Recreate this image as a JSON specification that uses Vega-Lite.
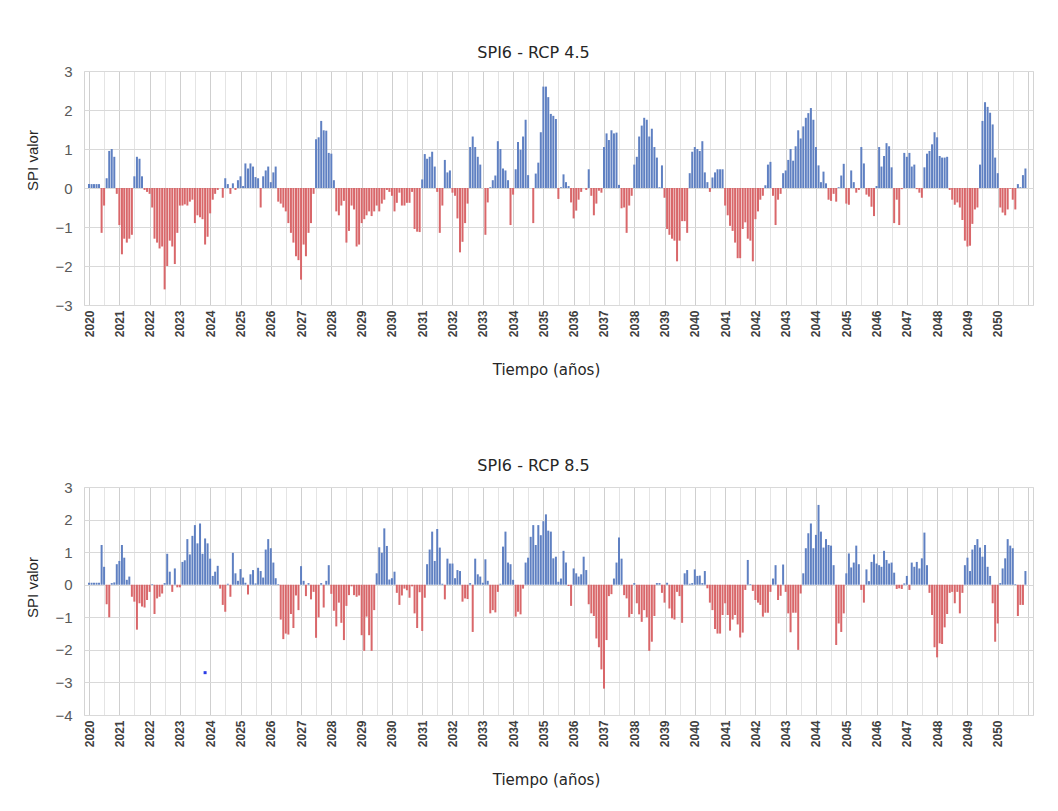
{
"$schema": "https://vega.github.io/schema/vega-lite/v6.json",
"background": "white",
"padding": {"left": 25, "top": 44, "right": 0, "bottom": 0},
"spacing": 78,
"datasets": {
"rcp45": [
{"t":"2020-01","v":0.1},{"t":"2020-02","v":0.1},{"t":"2020-03","v":0.1},{"t":"2020-04","v":0.1},{"t":"2020-05","v":0.1},{"t":"2020-06","v":-1.15},{"t":"2020-07","v":-0.45},{"t":"2020-08","v":0.25},{"t":"2020-09","v":0.95},{"t":"2020-10","v":1.0},{"t":"2020-11","v":0.8},{"t":"2020-12","v":-0.15},
{"t":"2021-01","v":-0.95},{"t":"2021-02","v":-1.7},{"t":"2021-03","v":-1.3},{"t":"2021-04","v":-1.4},{"t":"2021-05","v":-1.3},{"t":"2021-06","v":-1.2},{"t":"2021-07","v":0.3},{"t":"2021-08","v":0.8},{"t":"2021-09","v":0.75},{"t":"2021-10","v":0.3},{"t":"2021-11","v":-0.05},{"t":"2021-12","v":-0.1},
{"t":"2022-01","v":-0.15},{"t":"2022-02","v":-0.5},{"t":"2022-03","v":-1.3},{"t":"2022-04","v":-1.4},{"t":"2022-05","v":-1.55},{"t":"2022-06","v":-1.5},{"t":"2022-07","v":-2.6},{"t":"2022-08","v":-2.0},{"t":"2022-09","v":-1.35},{"t":"2022-10","v":-1.5},{"t":"2022-11","v":-1.95},{"t":"2022-12","v":-1.15},
{"t":"2023-01","v":-0.45},{"t":"2023-02","v":-0.45},{"t":"2023-03","v":-0.42},{"t":"2023-04","v":-0.45},{"t":"2023-05","v":-0.35},{"t":"2023-06","v":-0.3},{"t":"2023-07","v":-0.9},{"t":"2023-08","v":-0.7},{"t":"2023-09","v":-0.75},{"t":"2023-10","v":-0.8},{"t":"2023-11","v":-1.45},{"t":"2023-12","v":-1.25},
{"t":"2024-01","v":-0.65},{"t":"2024-02","v":-0.3},{"t":"2024-03","v":-0.15},{"t":"2024-04","v":-0.05},{"t":"2024-05","v":0.0},{"t":"2024-06","v":-0.25},{"t":"2024-07","v":0.25},{"t":"2024-08","v":0.1},{"t":"2024-09","v":-0.15},{"t":"2024-10","v":0.12},{"t":"2024-11","v":-0.05},{"t":"2024-12","v":0.2},
{"t":"2025-01","v":0.3},{"t":"2025-02","v":0.05},{"t":"2025-03","v":0.63},{"t":"2025-04","v":0.5},{"t":"2025-05","v":0.63},{"t":"2025-06","v":0.55},{"t":"2025-07","v":0.28},{"t":"2025-08","v":0.25},{"t":"2025-09","v":-0.5},{"t":"2025-10","v":0.3},{"t":"2025-11","v":0.45},{"t":"2025-12","v":0.55},
{"t":"2026-01","v":0.15},{"t":"2026-02","v":0.4},{"t":"2026-03","v":0.55},{"t":"2026-04","v":-0.35},{"t":"2026-05","v":-0.4},{"t":"2026-06","v":-0.5},{"t":"2026-07","v":-0.6},{"t":"2026-08","v":-0.9},{"t":"2026-09","v":-1.15},{"t":"2026-10","v":-1.4},{"t":"2026-11","v":-1.75},{"t":"2026-12","v":-1.85},
{"t":"2027-01","v":-2.35},{"t":"2027-02","v":-1.45},{"t":"2027-03","v":-1.75},{"t":"2027-04","v":-1.15},{"t":"2027-05","v":-0.9},{"t":"2027-06","v":-0.15},{"t":"2027-07","v":1.25},{"t":"2027-08","v":1.3},{"t":"2027-09","v":1.72},{"t":"2027-10","v":1.48},{"t":"2027-11","v":1.47},{"t":"2027-12","v":0.9},
{"t":"2028-01","v":0.88},{"t":"2028-02","v":0.2},{"t":"2028-03","v":-0.6},{"t":"2028-04","v":-0.7},{"t":"2028-05","v":-0.45},{"t":"2028-06","v":-0.33},{"t":"2028-07","v":-1.4},{"t":"2028-08","v":-1.1},{"t":"2028-09","v":-0.45},{"t":"2028-10","v":-0.55},{"t":"2028-11","v":-1.5},{"t":"2028-12","v":-1.45},
{"t":"2029-01","v":-0.9},{"t":"2029-02","v":-0.8},{"t":"2029-03","v":-0.7},{"t":"2029-04","v":-0.6},{"t":"2029-05","v":-0.72},{"t":"2029-06","v":-0.6},{"t":"2029-07","v":-0.45},{"t":"2029-08","v":-0.6},{"t":"2029-09","v":-0.4},{"t":"2029-10","v":-0.3},{"t":"2029-11","v":-0.05},{"t":"2029-12","v":-0.1},
{"t":"2030-01","v":-0.2},{"t":"2030-02","v":-0.6},{"t":"2030-03","v":-0.38},{"t":"2030-04","v":-0.12},{"t":"2030-05","v":-0.45},{"t":"2030-06","v":-0.45},{"t":"2030-07","v":-0.38},{"t":"2030-08","v":-0.38},{"t":"2030-09","v":-0.1},{"t":"2030-10","v":-1.05},{"t":"2030-11","v":-1.12},{"t":"2030-12","v":-1.13},
{"t":"2031-01","v":0.22},{"t":"2031-02","v":0.87},{"t":"2031-03","v":0.75},{"t":"2031-04","v":0.8},{"t":"2031-05","v":0.93},{"t":"2031-06","v":0.55},{"t":"2031-07","v":-0.1},{"t":"2031-08","v":-1.15},{"t":"2031-09","v":-0.45},{"t":"2031-10","v":0.72},{"t":"2031-11","v":0.4},{"t":"2031-12","v":0.45},
{"t":"2032-01","v":-0.12},{"t":"2032-02","v":-0.2},{"t":"2032-03","v":-0.78},{"t":"2032-04","v":-1.65},{"t":"2032-05","v":-1.38},{"t":"2032-06","v":-0.9},{"t":"2032-07","v":-0.4},{"t":"2032-08","v":1.05},{"t":"2032-09","v":1.32},{"t":"2032-10","v":1.05},{"t":"2032-11","v":0.8},{"t":"2032-12","v":0.6},
{"t":"2033-01","v":0.0},{"t":"2033-02","v":-1.2},{"t":"2033-03","v":-0.37},{"t":"2033-04","v":0.02},{"t":"2033-05","v":0.2},{"t":"2033-06","v":0.32},{"t":"2033-07","v":1.2},{"t":"2033-08","v":1.0},{"t":"2033-09","v":0.5},{"t":"2033-10","v":0.45},{"t":"2033-11","v":0.2},{"t":"2033-12","v":-0.95},
{"t":"2034-01","v":-0.17},{"t":"2034-02","v":0.48},{"t":"2034-03","v":1.18},{"t":"2034-04","v":0.98},{"t":"2034-05","v":1.32},{"t":"2034-06","v":1.75},{"t":"2034-07","v":0.33},{"t":"2034-08","v":0.0},{"t":"2034-09","v":-0.9},{"t":"2034-10","v":0.37},{"t":"2034-11","v":0.65},{"t":"2034-12","v":1.43},
{"t":"2035-01","v":2.6},{"t":"2035-02","v":2.6},{"t":"2035-03","v":2.33},{"t":"2035-04","v":1.9},{"t":"2035-05","v":1.85},{"t":"2035-06","v":1.77},{"t":"2035-07","v":-0.28},{"t":"2035-08","v":0.02},{"t":"2035-09","v":0.35},{"t":"2035-10","v":0.15},{"t":"2035-11","v":0.05},{"t":"2035-12","v":-0.37},
{"t":"2036-01","v":-0.78},{"t":"2036-02","v":-0.58},{"t":"2036-03","v":-0.3},{"t":"2036-04","v":-0.1},{"t":"2036-05","v":0.0},{"t":"2036-06","v":-0.05},{"t":"2036-07","v":0.48},{"t":"2036-08","v":-0.2},{"t":"2036-09","v":-0.7},{"t":"2036-10","v":-0.4},{"t":"2036-11","v":-0.07},{"t":"2036-12","v":-0.12},
{"t":"2037-01","v":1.05},{"t":"2037-02","v":1.4},{"t":"2037-03","v":1.23},{"t":"2037-04","v":1.48},{"t":"2037-05","v":1.4},{"t":"2037-06","v":1.42},{"t":"2037-07","v":0.08},{"t":"2037-08","v":-0.52},{"t":"2037-09","v":-0.5},{"t":"2037-10","v":-1.15},{"t":"2037-11","v":-0.45},{"t":"2037-12","v":-0.2},
{"t":"2038-01","v":0.6},{"t":"2038-02","v":0.8},{"t":"2038-03","v":1.32},{"t":"2038-04","v":1.6},{"t":"2038-05","v":1.8},{"t":"2038-06","v":1.75},{"t":"2038-07","v":1.32},{"t":"2038-08","v":1.52},{"t":"2038-09","v":1.05},{"t":"2038-10","v":0.78},{"t":"2038-11","v":0.02},{"t":"2038-12","v":0.58},
{"t":"2039-01","v":-0.25},{"t":"2039-02","v":-1.05},{"t":"2039-03","v":-1.2},{"t":"2039-04","v":-1.3},{"t":"2039-05","v":-1.35},{"t":"2039-06","v":-1.88},{"t":"2039-07","v":-1.35},{"t":"2039-08","v":-0.85},{"t":"2039-09","v":-0.85},{"t":"2039-10","v":-1.15},{"t":"2039-11","v":0.38},{"t":"2039-12","v":0.93},
{"t":"2040-01","v":1.05},{"t":"2040-02","v":1.0},{"t":"2040-03","v":0.95},{"t":"2040-04","v":1.2},{"t":"2040-05","v":0.4},{"t":"2040-06","v":0.15},{"t":"2040-07","v":-0.1},{"t":"2040-08","v":0.27},{"t":"2040-09","v":0.4},{"t":"2040-10","v":0.48},{"t":"2040-11","v":0.48},{"t":"2040-12","v":0.48},
{"t":"2041-01","v":-0.45},{"t":"2041-02","v":-0.7},{"t":"2041-03","v":-0.97},{"t":"2041-04","v":-1.1},{"t":"2041-05","v":-1.4},{"t":"2041-06","v":-1.8},{"t":"2041-07","v":-1.8},{"t":"2041-08","v":-1.05},{"t":"2041-09","v":-0.88},{"t":"2041-10","v":-1.3},{"t":"2041-11","v":-1.35},{"t":"2041-12","v":-1.88},
{"t":"2042-01","v":-0.8},{"t":"2042-02","v":-0.6},{"t":"2042-03","v":-0.3},{"t":"2042-04","v":-0.2},{"t":"2042-05","v":0.07},{"t":"2042-06","v":0.6},{"t":"2042-07","v":0.67},{"t":"2042-08","v":-0.2},{"t":"2042-09","v":-0.95},{"t":"2042-10","v":-0.3},{"t":"2042-11","v":-0.15},{"t":"2042-12","v":0.38},
{"t":"2043-01","v":0.45},{"t":"2043-02","v":0.72},{"t":"2043-03","v":1.0},{"t":"2043-04","v":0.7},{"t":"2043-05","v":1.07},{"t":"2043-06","v":1.48},{"t":"2043-07","v":1.27},{"t":"2043-08","v":1.58},{"t":"2043-09","v":1.8},{"t":"2043-10","v":1.92},{"t":"2043-11","v":2.05},{"t":"2043-12","v":1.75},
{"t":"2044-01","v":1.05},{"t":"2044-02","v":0.58},{"t":"2044-03","v":0.15},{"t":"2044-04","v":0.42},{"t":"2044-05","v":0.12},{"t":"2044-06","v":-0.3},{"t":"2044-07","v":-0.33},{"t":"2044-08","v":-0.15},{"t":"2044-09","v":-0.35},{"t":"2044-10","v":0.02},{"t":"2044-11","v":0.32},{"t":"2044-12","v":0.62},
{"t":"2045-01","v":-0.4},{"t":"2045-02","v":-0.43},{"t":"2045-03","v":0.45},{"t":"2045-04","v":0.15},{"t":"2045-05","v":-0.12},{"t":"2045-06","v":-0.05},{"t":"2045-07","v":1.05},{"t":"2045-08","v":0.63},{"t":"2045-09","v":-0.17},{"t":"2045-10","v":-0.22},{"t":"2045-11","v":-0.48},{"t":"2045-12","v":-0.72},
{"t":"2046-01","v":0.05},{"t":"2046-02","v":1.05},{"t":"2046-03","v":0.55},{"t":"2046-04","v":0.82},{"t":"2046-05","v":1.15},{"t":"2046-06","v":1.07},{"t":"2046-07","v":0.53},{"t":"2046-08","v":-0.9},{"t":"2046-09","v":-0.3},{"t":"2046-10","v":-0.95},{"t":"2046-11","v":-0.03},{"t":"2046-12","v":0.9},
{"t":"2047-01","v":0.8},{"t":"2047-02","v":0.9},{"t":"2047-03","v":0.55},{"t":"2047-04","v":0.6},{"t":"2047-05","v":-0.03},{"t":"2047-06","v":-0.12},{"t":"2047-07","v":-0.25},{"t":"2047-08","v":0.53},{"t":"2047-09","v":0.88},{"t":"2047-10","v":0.95},{"t":"2047-11","v":1.12},{"t":"2047-12","v":1.43},
{"t":"2048-01","v":1.3},{"t":"2048-02","v":0.82},{"t":"2048-03","v":0.78},{"t":"2048-04","v":0.78},{"t":"2048-05","v":0.8},{"t":"2048-06","v":-0.05},{"t":"2048-07","v":-0.3},{"t":"2048-08","v":-0.43},{"t":"2048-09","v":-0.37},{"t":"2048-10","v":-0.5},{"t":"2048-11","v":-0.82},{"t":"2048-12","v":-1.35},
{"t":"2049-01","v":-1.5},{"t":"2049-02","v":-1.48},{"t":"2049-03","v":-0.92},{"t":"2049-04","v":-0.55},{"t":"2049-05","v":-0.5},{"t":"2049-06","v":0.6},{"t":"2049-07","v":1.72},{"t":"2049-08","v":2.2},{"t":"2049-09","v":2.08},{"t":"2049-10","v":1.93},{"t":"2049-11","v":1.63},{"t":"2049-12","v":0.78},
{"t":"2050-01","v":0.38},{"t":"2050-02","v":-0.5},{"t":"2050-03","v":-0.63},{"t":"2050-04","v":-0.7},{"t":"2050-05","v":-0.55},{"t":"2050-06","v":-0.02},{"t":"2050-07","v":-0.3},{"t":"2050-08","v":-0.55},{"t":"2050-09","v":0.1},{"t":"2050-10","v":0.02},{"t":"2050-11","v":0.33},{"t":"2050-12","v":0.5}
],
"rcp85": [
{"t":"2020-01","v":0.06},{"t":"2020-02","v":0.06},{"t":"2020-03","v":0.06},{"t":"2020-04","v":0.06},{"t":"2020-05","v":0.06},{"t":"2020-06","v":1.22},{"t":"2020-07","v":0.55},{"t":"2020-08","v":-0.6},{"t":"2020-09","v":-1.0},{"t":"2020-10","v":0.05},{"t":"2020-11","v":0.07},{"t":"2020-12","v":0.63},
{"t":"2021-01","v":0.73},{"t":"2021-02","v":1.22},{"t":"2021-03","v":0.83},{"t":"2021-04","v":0.15},{"t":"2021-05","v":0.25},{"t":"2021-06","v":-0.37},{"t":"2021-07","v":-0.52},{"t":"2021-08","v":-1.38},{"t":"2021-09","v":-0.57},{"t":"2021-10","v":-0.67},{"t":"2021-11","v":-0.7},{"t":"2021-12","v":-0.47},
{"t":"2022-01","v":-0.22},{"t":"2022-02","v":0.02},{"t":"2022-03","v":-0.9},{"t":"2022-04","v":-0.42},{"t":"2022-05","v":-0.37},{"t":"2022-06","v":-0.27},{"t":"2022-07","v":0.05},{"t":"2022-08","v":0.95},{"t":"2022-09","v":0.4},{"t":"2022-10","v":-0.22},{"t":"2022-11","v":0.5},{"t":"2022-12","v":-0.08},
{"t":"2023-01","v":-0.08},{"t":"2023-02","v":0.7},{"t":"2023-03","v":0.75},{"t":"2023-04","v":1.4},{"t":"2023-05","v":0.93},{"t":"2023-06","v":1.5},{"t":"2023-07","v":1.83},{"t":"2023-08","v":1.27},{"t":"2023-09","v":1.88},{"t":"2023-10","v":0.95},{"t":"2023-11","v":1.42},{"t":"2023-12","v":1.27},
{"t":"2024-01","v":0.8},{"t":"2024-02","v":0.27},{"t":"2024-03","v":0.4},{"t":"2024-04","v":0.58},{"t":"2024-05","v":-0.12},{"t":"2024-06","v":-0.62},{"t":"2024-07","v":-0.83},{"t":"2024-08","v":0.03},{"t":"2024-09","v":-0.37},{"t":"2024-10","v":0.98},{"t":"2024-11","v":0.35},{"t":"2024-12","v":0.12},
{"t":"2025-01","v":0.48},{"t":"2025-02","v":0.22},{"t":"2025-03","v":0.06},{"t":"2025-04","v":-0.3},{"t":"2025-05","v":0.32},{"t":"2025-06","v":0.45},{"t":"2025-07","v":0.04},{"t":"2025-08","v":0.52},{"t":"2025-09","v":0.42},{"t":"2025-10","v":0.22},{"t":"2025-11","v":1.08},{"t":"2025-12","v":1.4},
{"t":"2026-01","v":1.12},{"t":"2026-02","v":0.68},{"t":"2026-03","v":0.2},{"t":"2026-04","v":0.02},{"t":"2026-05","v":-1.07},{"t":"2026-06","v":-1.67},{"t":"2026-07","v":-1.5},{"t":"2026-08","v":-1.53},{"t":"2026-09","v":-0.9},{"t":"2026-10","v":-1.33},{"t":"2026-11","v":-0.33},{"t":"2026-12","v":-0.78},
{"t":"2027-01","v":0.57},{"t":"2027-02","v":0.12},{"t":"2027-03","v":-0.35},{"t":"2027-04","v":0.05},{"t":"2027-05","v":-0.45},{"t":"2027-06","v":-0.22},{"t":"2027-07","v":-1.63},{"t":"2027-08","v":-1.0},{"t":"2027-09","v":0.05},{"t":"2027-10","v":-0.7},{"t":"2027-11","v":0.12},{"t":"2027-12","v":0.6},
{"t":"2028-01","v":-0.28},{"t":"2028-02","v":-0.8},{"t":"2028-03","v":-1.28},{"t":"2028-04","v":-0.55},{"t":"2028-05","v":-1.17},{"t":"2028-06","v":-1.7},{"t":"2028-07","v":-0.65},{"t":"2028-08","v":-0.32},{"t":"2028-09","v":-0.05},{"t":"2028-10","v":-0.32},{"t":"2028-11","v":-0.37},{"t":"2028-12","v":-0.33},
{"t":"2029-01","v":-1.55},{"t":"2029-02","v":-2.03},{"t":"2029-03","v":-0.98},{"t":"2029-04","v":-1.55},{"t":"2029-05","v":-2.03},{"t":"2029-06","v":-0.78},{"t":"2029-07","v":0.35},{"t":"2029-08","v":1.15},{"t":"2029-09","v":0.98},{"t":"2029-10","v":1.73},{"t":"2029-11","v":1.19},{"t":"2029-12","v":0.16},
{"t":"2030-01","v":0.2},{"t":"2030-02","v":0.4},{"t":"2030-03","v":-0.25},{"t":"2030-04","v":-0.62},{"t":"2030-05","v":-0.33},{"t":"2030-06","v":-0.12},{"t":"2030-07","v":-0.17},{"t":"2030-08","v":-0.4},{"t":"2030-09","v":-0.05},{"t":"2030-10","v":-0.88},{"t":"2030-11","v":-1.33},{"t":"2030-12","v":-0.23},
{"t":"2031-01","v":-1.42},{"t":"2031-02","v":-0.4},{"t":"2031-03","v":0.63},{"t":"2031-04","v":1.08},{"t":"2031-05","v":1.63},{"t":"2031-06","v":0.73},{"t":"2031-07","v":1.71},{"t":"2031-08","v":1.14},{"t":"2031-09","v":0.03},{"t":"2031-10","v":-0.45},{"t":"2031-11","v":0.8},{"t":"2031-12","v":0.65},
{"t":"2032-01","v":0.65},{"t":"2032-02","v":0.2},{"t":"2032-03","v":0.45},{"t":"2032-04","v":0.42},{"t":"2032-05","v":-0.52},{"t":"2032-06","v":-0.42},{"t":"2032-07","v":-0.44},{"t":"2032-08","v":0.05},{"t":"2032-09","v":-1.45},{"t":"2032-10","v":0.8},{"t":"2032-11","v":0.32},{"t":"2032-12","v":0.25},
{"t":"2033-01","v":0.06},{"t":"2033-02","v":0.78},{"t":"2033-03","v":0.12},{"t":"2033-04","v":-0.88},{"t":"2033-05","v":-0.78},{"t":"2033-06","v":-0.85},{"t":"2033-07","v":-0.22},{"t":"2033-08","v":0.03},{"t":"2033-09","v":1.17},{"t":"2033-10","v":1.63},{"t":"2033-11","v":0.68},{"t":"2033-12","v":0.63},
{"t":"2034-01","v":0.15},{"t":"2034-02","v":-0.98},{"t":"2034-03","v":-0.83},{"t":"2034-04","v":-0.91},{"t":"2034-05","v":-0.12},{"t":"2034-06","v":0.68},{"t":"2034-07","v":0.83},{"t":"2034-08","v":1.47},{"t":"2034-09","v":1.83},{"t":"2034-10","v":1.22},{"t":"2034-11","v":1.83},{"t":"2034-12","v":1.52},
{"t":"2035-01","v":1.95},{"t":"2035-02","v":2.16},{"t":"2035-03","v":1.66},{"t":"2035-04","v":1.63},{"t":"2035-05","v":0.81},{"t":"2035-06","v":0.86},{"t":"2035-07","v":0.09},{"t":"2035-08","v":0.19},{"t":"2035-09","v":1.04},{"t":"2035-10","v":0.68},{"t":"2035-11","v":-0.04},{"t":"2035-12","v":-0.65},
{"t":"2036-01","v":0.5},{"t":"2036-02","v":0.35},{"t":"2036-03","v":0.25},{"t":"2036-04","v":0.32},{"t":"2036-05","v":0.86},{"t":"2036-06","v":0.45},{"t":"2036-07","v":-0.6},{"t":"2036-08","v":-0.88},{"t":"2036-09","v":-0.96},{"t":"2036-10","v":-1.65},{"t":"2036-11","v":-1.92},{"t":"2036-12","v":-2.6},
{"t":"2037-01","v":-3.19},{"t":"2037-02","v":-1.7},{"t":"2037-03","v":-0.35},{"t":"2037-04","v":-0.29},{"t":"2037-05","v":0.19},{"t":"2037-06","v":0.68},{"t":"2037-07","v":1.45},{"t":"2037-08","v":0.8},{"t":"2037-09","v":-0.32},{"t":"2037-10","v":-0.42},{"t":"2037-11","v":-1.0},{"t":"2037-12","v":-0.9},
{"t":"2038-01","v":0.05},{"t":"2038-02","v":-0.57},{"t":"2038-03","v":-0.91},{"t":"2038-04","v":-1.14},{"t":"2038-05","v":-0.78},{"t":"2038-06","v":-1.0},{"t":"2038-07","v":-2.03},{"t":"2038-08","v":-1.75},{"t":"2038-09","v":-0.96},{"t":"2038-10","v":0.05},{"t":"2038-11","v":0.05},{"t":"2038-12","v":-0.25},
{"t":"2039-01","v":-0.55},{"t":"2039-02","v":0.06},{"t":"2039-03","v":-0.73},{"t":"2039-04","v":-1.03},{"t":"2039-05","v":-1.07},{"t":"2039-06","v":-0.22},{"t":"2039-07","v":-0.35},{"t":"2039-08","v":-1.17},{"t":"2039-09","v":0.35},{"t":"2039-10","v":0.45},{"t":"2039-11","v":0.03},{"t":"2039-12","v":0.05},
{"t":"2040-01","v":0.47},{"t":"2040-02","v":0.27},{"t":"2040-03","v":0.28},{"t":"2040-04","v":0.05},{"t":"2040-05","v":0.42},{"t":"2040-06","v":-0.11},{"t":"2040-07","v":-0.55},{"t":"2040-08","v":-0.78},{"t":"2040-09","v":-1.36},{"t":"2040-10","v":-1.5},{"t":"2040-11","v":-1.5},{"t":"2040-12","v":-0.93},
{"t":"2041-01","v":-0.57},{"t":"2041-02","v":-0.93},{"t":"2041-03","v":-1.41},{"t":"2041-04","v":-1.07},{"t":"2041-05","v":-0.93},{"t":"2041-06","v":-1.22},{"t":"2041-07","v":-1.62},{"t":"2041-08","v":-1.47},{"t":"2041-09","v":-0.16},{"t":"2041-10","v":0.76},{"t":"2041-11","v":0.02},{"t":"2041-12","v":-0.19},
{"t":"2042-01","v":-0.47},{"t":"2042-02","v":-0.55},{"t":"2042-03","v":-0.62},{"t":"2042-04","v":-0.98},{"t":"2042-05","v":-0.86},{"t":"2042-06","v":-0.86},{"t":"2042-07","v":-0.22},{"t":"2042-08","v":0.19},{"t":"2042-09","v":0.6},{"t":"2042-10","v":-0.47},{"t":"2042-11","v":-0.34},{"t":"2042-12","v":0.62},
{"t":"2043-01","v":-0.22},{"t":"2043-02","v":-0.88},{"t":"2043-03","v":-1.46},{"t":"2043-04","v":-0.86},{"t":"2043-05","v":-0.86},{"t":"2043-06","v":-2.0},{"t":"2043-07","v":-0.27},{"t":"2043-08","v":0.35},{"t":"2043-09","v":1.12},{"t":"2043-10","v":1.58},{"t":"2043-11","v":1.88},{"t":"2043-12","v":1.12},
{"t":"2044-01","v":1.53},{"t":"2044-02","v":2.45},{"t":"2044-03","v":1.63},{"t":"2044-04","v":1.14},{"t":"2044-05","v":1.4},{"t":"2044-06","v":1.22},{"t":"2044-07","v":1.2},{"t":"2044-08","v":0.6},{"t":"2044-09","v":-1.85},{"t":"2044-10","v":-1.19},{"t":"2044-11","v":-1.45},{"t":"2044-12","v":-0.88},
{"t":"2045-01","v":0.35},{"t":"2045-02","v":0.96},{"t":"2045-03","v":0.53},{"t":"2045-04","v":0.68},{"t":"2045-05","v":1.2},{"t":"2045-06","v":0.63},{"t":"2045-07","v":-0.16},{"t":"2045-08","v":-0.55},{"t":"2045-09","v":0.47},{"t":"2045-10","v":0.11},{"t":"2045-11","v":0.7},{"t":"2045-12","v":0.93},
{"t":"2046-01","v":0.65},{"t":"2046-02","v":0.6},{"t":"2046-03","v":0.55},{"t":"2046-04","v":1.04},{"t":"2046-05","v":0.76},{"t":"2046-06","v":0.65},{"t":"2046-07","v":0.68},{"t":"2046-08","v":0.37},{"t":"2046-09","v":-0.13},{"t":"2046-10","v":-0.11},{"t":"2046-11","v":-0.13},{"t":"2046-12","v":0.04},
{"t":"2047-01","v":0.27},{"t":"2047-02","v":-0.16},{"t":"2047-03","v":0.68},{"t":"2047-04","v":0.55},{"t":"2047-05","v":0.7},{"t":"2047-06","v":0.5},{"t":"2047-07","v":0.81},{"t":"2047-08","v":1.6},{"t":"2047-09","v":0.6},{"t":"2047-10","v":-0.25},{"t":"2047-11","v":-0.93},{"t":"2047-12","v":-1.92},
{"t":"2048-01","v":-2.23},{"t":"2048-02","v":-1.8},{"t":"2048-03","v":-1.82},{"t":"2048-04","v":-1.31},{"t":"2048-05","v":-0.9},{"t":"2048-06","v":-0.25},{"t":"2048-07","v":-0.22},{"t":"2048-08","v":-0.57},{"t":"2048-09","v":-0.22},{"t":"2048-10","v":-0.88},{"t":"2048-11","v":-0.25},{"t":"2048-12","v":0.6},
{"t":"2049-01","v":0.83},{"t":"2049-02","v":0.42},{"t":"2049-03","v":1.08},{"t":"2049-04","v":1.22},{"t":"2049-05","v":1.4},{"t":"2049-06","v":1.14},{"t":"2049-07","v":0.86},{"t":"2049-08","v":1.22},{"t":"2049-09","v":0.55},{"t":"2049-10","v":0.27},{"t":"2049-11","v":-0.57},{"t":"2049-12","v":-1.75},
{"t":"2050-01","v":-1.19},{"t":"2050-02","v":0.05},{"t":"2050-03","v":0.5},{"t":"2050-04","v":0.81},{"t":"2050-05","v":1.4},{"t":"2050-06","v":1.2},{"t":"2050-07","v":1.12},{"t":"2050-08","v":0.02},{"t":"2050-09","v":-0.96},{"t":"2050-10","v":-0.62},{"t":"2050-11","v":-0.62},{"t":"2050-12","v":0.42}
],
"punto": [{"t":"2023-11","v":-2.7}]
},
"vconcat": [
{
"width": 949, "height": 234,
"title": {"text": "SPI6 - RCP 4.5", "dx": -25, "offset": 3},
"data": {"name": "rcp45"},
"mark": {"type": "bar", "width": 2},
"encoding": {
"x": {"field": "t", "type": "temporal",
"scale": {"type": "utc", "domain": [1577836800000, 2556144000000], "nice": false},
"axis": {"title": "Tiempo (años)", "tickCount": {"interval": "month", "step": 6},
"labelExpr": "utcmonth(datum.value) == 0 && utcyear(datum.value) < 2051 ? utcFormat(datum.value, '%Y') : ''",
"labelAngle": -90, "labelOverlap": false, "labelFlush": false, "labelBound": false,
"gridColor": {"condition": {"test": "utcmonth(datum.value) == 0", "value": "#cfcfcf"}, "value": "#e4e4e4"},
"titleX": 462}},
"y": {"field": "v", "type": "quantitative", "stack": null,
"scale": {"domain": [-3, 3], "nice": false},
"axis": {"title": "SPI valor", "values": [-3, -2, -1, 0, 1, 2, 3], "titleY": 89}},
"color": {"condition": {"test": "datum.v < 0", "value": "#d9676a"}, "value": "#5f80c2"}
}
},
{
"width": 949, "height": 228,
"title": {"text": "SPI6 - RCP 8.5", "dx": -25, "offset": 6},
"encoding": {
"x": {"field": "t", "type": "temporal",
"scale": {"type": "utc", "domain": [1577836800000, 2556144000000], "nice": false},
"axis": {"title": "Tiempo (años)", "tickCount": {"interval": "month", "step": 6},
"labelExpr": "utcmonth(datum.value) == 0 && utcyear(datum.value) < 2051 ? utcFormat(datum.value, '%Y') : ''",
"labelAngle": -90, "labelOverlap": false, "labelFlush": false, "labelBound": false,
"gridColor": {"condition": {"test": "utcmonth(datum.value) == 0", "value": "#cfcfcf"}, "value": "#e4e4e4"},
"titleX": 462}},
"y": {"field": "v", "type": "quantitative", "stack": null,
"scale": {"domain": [-4, 3], "nice": false},
"axis": {"title": "SPI valor", "values": [-4, -3, -2, -1, 0, 1, 2, 3], "titleY": 100}}
},
"layer": [
{
"data": {"name": "rcp85"},
"mark": {"type": "bar", "width": 2},
"encoding": {
"color": {"condition": {"test": "datum.v < 0", "value": "#d9676a"}, "value": "#5f80c2"}
}
},
{
"data": {"name": "punto"},
"mark": {"type": "square", "size": 9, "color": "#2a3ce6", "opacity": 1},
"encoding": {}
}
]
}
],
"config": {
"view": {"stroke": "#d4d4d4"},
"title": {"font": "DejaVu Sans", "fontSize": 16, "fontWeight": "normal", "color": "#262626"},
"axis": {
"labelFont": "Liberation Sans", "labelColor": "#404040",
"titleFont": "DejaVu Sans", "titleFontWeight": "normal", "titleColor": "#262626",
"ticks": false, "tickSize": 0, "domain": false,
"grid": true, "gridColor": "#d9d9d9"
},
"axisX": {"labelFontSize": 12, "labelFontWeight": "bold", "labelPadding": 5, "titleFontSize": 15, "titlePadding": 26},
"axisY": {"labelFontSize": 15, "labelPadding": 12, "titleFont": "Liberation Sans", "titleFontSize": 15, "titlePadding": 14, "labelColor": "#595959"}
}
}
